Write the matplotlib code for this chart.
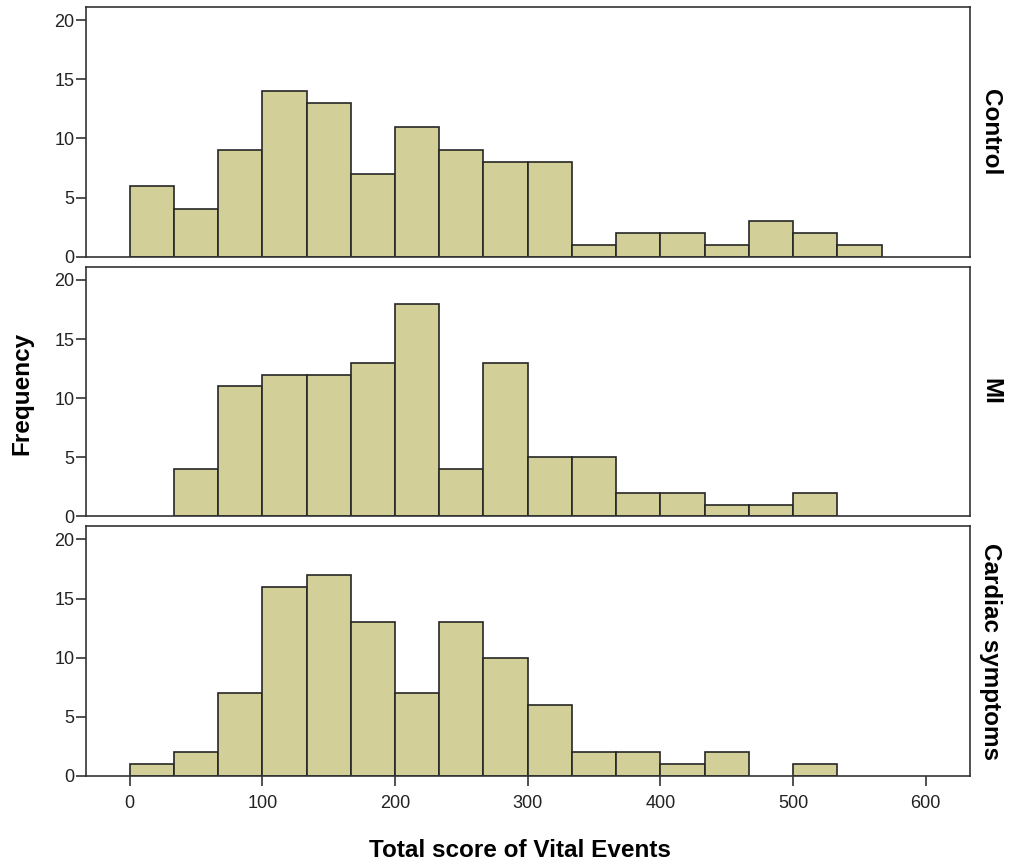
import numpy as np
import matplotlib.pyplot as plt

plt.rcParams['font.family'] = ['Liberation Sans', 'DejaVu Sans']

# bin edges: width 33.33, starting at 0
bin_width = 100 / 3
groups = ["Control", "MI", "Cardiac symptoms"]
control = [6, 4, 9, 14, 13, 7, 11, 9, 8, 8, 1, 2, 2, 1, 3, 2, 1]
mi = [0, 4, 11, 12, 12, 13, 18, 4, 13, 5, 5, 2, 2, 1, 1, 2]
cardiac = [1, 2, 7, 16, 17, 13, 7, 13, 10, 6, 2, 2, 1, 2, 0, 1]
counts = [control, mi, cardiac]

bar_color = '#D3CF98'
edge_color = '#262626'

fig = plt.figure(figsize=(10.1, 8.65), dpi=100)
left, width = 0.085, 0.875
bottoms = [0.7032, 0.4029, 0.1029]
height = 0.2885

for i, (name, vals) in enumerate(zip(groups, counts)):
    ax = fig.add_axes([left, bottoms[i], width, height])
    vals = np.array(vals)
    lefts = np.arange(len(vals)) * bin_width
    keep = vals > 0
    ax.bar(lefts[keep], vals[keep], width=bin_width, align='edge',
           color=bar_color, edgecolor=edge_color, linewidth=1.2, zorder=2)
    ax.set_xlim(-33, 633)
    ax.set_ylim(0, 21.1)
    ax.set_yticks([0, 5, 10, 15, 20])
    for s in ax.spines.values():
        s.set_color('#333333')
        s.set_linewidth(1.2)
    ax.tick_params(axis='y', direction='out', length=7, width=1.2,
                   color='#333333', labelsize=13, labelcolor='#222222', pad=1)
    if i == 2:
        ax.set_xticks([0, 100, 200, 300, 400, 500, 600])
        ax.tick_params(axis='x', direction='out', length=7, width=1.2,
                       color='#333333', labelsize=13, labelcolor='#222222', pad=7)
    else:
        ax.set_xticks([])
    ax.text(1.024, 0.5, name, transform=ax.transAxes, rotation=-90,
            ha='center', va='center', fontsize=17.5, fontweight='bold')

fig.text(0.022, 0.545, 'Frequency', rotation=90, ha='center', va='center',
         fontsize=17.5, fontweight='bold')
fig.text(0.515, 0.017, 'Total score of Vital Events', ha='center', va='center',
         fontsize=17.5, fontweight='bold')

fig.savefig('out.png', dpi=100)
